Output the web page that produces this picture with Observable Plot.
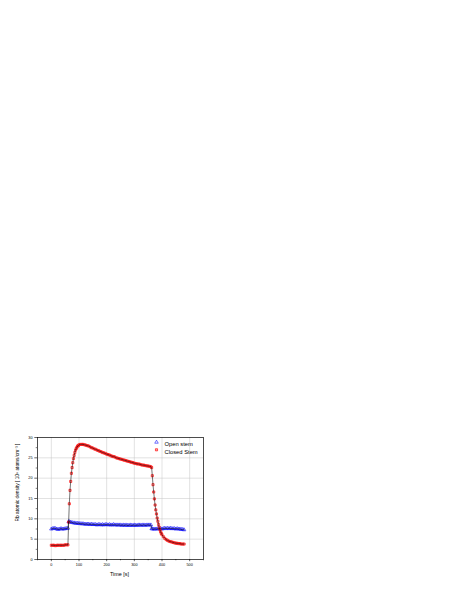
<!DOCTYPE html>
<html>
<head>
<meta charset="utf-8">
<script src="https://cdn.jsdelivr.net/npm/d3@7"></script>
<script src="https://cdn.jsdelivr.net/npm/@observablehq/plot@0.6"></script>
<style>
  html, body { margin: 0; padding: 0; background: #fff; }
  #chart svg { display: block; }
</style>
</head>
<body>
<div id="chart"></div>
<script>
// ---- Data ----
const closedT = [0,5,10,15,20,25,30,35,40,45,50,55,60,
  62.5,65,67.5,70,72.5,75,77.5,80,82.5,85,87.5,90,92.5,95,97.5,100,
  105,110,115,120,125,130,135,140,145,150,155,160,165,170,175,180,185,190,195,200,
  205,210,215,220,225,230,235,240,245,250,255,260,265,270,275,280,285,290,295,300,
  305,310,315,320,325,330,335,340,345,350,355,360,362.5,
  365,367.5,370,372.5,375,377.5,380,382.5,385,387.5,390,392.5,395,397.5,400,
  405,410,415,420,425,430,435,440,445,450,455,460,465,470,475,480];
const closedV = [3.5,3.5,3.5,3.4,3.5,3.5,3.5,3.5,3.5,3.5,3.6,3.6,3.6,
  9.2,13.7,17.0,19.2,21.2,22.6,23.8,24.8,25.6,26.3,26.9,27.3,27.6,27.9,28.0,28.2,
  28.3,28.3,28.3,28.2,28.1,28.0,27.9,27.7,27.5,27.4,27.2,27.1,26.9,26.8,26.6,26.5,26.3,26.2,26.1,25.9,
  25.8,25.7,25.5,25.4,25.3,25.2,25.0,24.9,24.8,24.7,24.6,24.5,24.4,24.3,24.2,24.1,24.0,23.9,23.8,23.7,
  23.6,23.5,23.5,23.4,23.3,23.2,23.2,23.1,23.0,23.0,22.9,22.8,22.6,
  20.6,18.4,16.6,14.9,13.4,12.2,11.2,10.2,9.4,8.6,7.9,7.3,6.8,6.4,6.1,
  5.6,5.2,4.9,4.7,4.5,4.4,4.3,4.2,4.1,4.0,4.0,3.9,3.9,3.8,3.8,3.8];

const openT = [0,5,10,15,20,25,30,35,40,45,50,55,60,
  62.5,65,70,75,80,85,90,95,100,105,110,115,120,125,130,135,140,145,150,155,160,165,170,175,180,185,190,195,200,
  205,210,215,220,225,230,235,240,245,250,255,260,265,270,275,280,285,290,295,300,
  305,310,315,320,325,330,335,340,345,350,355,360,
  362.5,365,370,375,380,385,390,395,400,405,410,415,420,425,430,435,440,445,450,455,460,465,470,475,480];
const openV = [7.5,7.6,7.7,7.6,7.5,7.4,7.5,7.6,7.5,7.5,7.6,7.6,7.7,
  9.3,9.3,9.2,9.1,9.0,9.0,8.9,8.9,8.9,8.8,8.8,8.8,8.7,8.7,8.7,8.7,8.6,8.7,8.6,8.6,8.6,8.5,8.6,8.6,8.5,8.6,8.5,8.6,8.6,
  8.5,8.6,8.5,8.5,8.6,8.5,8.5,8.5,8.5,8.5,8.4,8.5,8.4,8.5,8.4,8.4,8.5,8.4,8.4,8.5,
  8.4,8.4,8.5,8.5,8.4,8.5,8.5,8.4,8.5,8.5,8.5,8.5,
  7.6,7.5,7.5,7.5,7.5,7.6,7.5,7.6,7.5,7.6,7.7,7.6,7.7,7.6,7.7,7.6,7.6,7.6,7.5,7.6,7.5,7.5,7.4,7.4,7.3];

const xTicks = [0, 100, 200, 300, 400, 500];
const xMinor = [-50, 50, 150, 250, 350, 450, 550];
const yTicks = [0, 5, 10, 15, 20, 25, 30];
const yMinor = [2.5, 7.5, 12.5, 17.5, 22.5, 27.5];
const seriesNames = ["Open stem", "Closed Stem"];
const xLabel = "Time [s]";
const yLabel = "Rb atomic density [ 10\u2079 atoms/cm\u207B\u00B3 ]";

const closed = closedT.map((t, i) => ({t, v: closedV[i]}));
const open = openT.map((t, i) => ({t, v: openV[i]}));

const chart = Plot.plot({
  width: 457,
  height: 591,
  marginLeft: 37,
  marginRight: 254,
  marginTop: 437,
  marginBottom: 32,
  style: {fontFamily: "'Liberation Sans', Arial, sans-serif", background: "#fff", color: "#000"},
  x: {domain: [-50, 550]},
  y: {domain: [0, 30]},
  marks: [
    Plot.gridX(xTicks, {stroke: "#c4c4c4", strokeOpacity: 1, strokeWidth: 0.5}),
    Plot.gridY(yTicks.slice(1, -1), {stroke: "#c4c4c4", strokeOpacity: 1, strokeWidth: 0.5}),
    Plot.axisX({ticks: xTicks, tickSize: 2.2, tickPadding: 1.3, fontSize: 3.8, label: null, strokeWidth: 0.6}),
    Plot.axisX({ticks: xMinor, tickSize: 1.3, tickFormat: () => "", label: null, strokeWidth: 0.5}),
    Plot.axisY({ticks: yTicks, tickSize: 2.7, tickPadding: 2.2, fontSize: 3.8, label: null, strokeWidth: 0.6}),
    Plot.axisY({ticks: yMinor, tickSize: 1.3, tickFormat: () => "", label: null, strokeWidth: 0.5}),
    Plot.dot(open, {x: "t", y: "v", symbol: "triangle", r: 1.3, stroke: "#0000ff", strokeWidth: 0.55, fill: "none"}),
    Plot.dot(closed, {x: "t", y: "v", symbol: "square", r: 1.2, stroke: "#ff0000", strokeWidth: 0.65, fill: "#ff6060", fillOpacity: 0.5}),
    Plot.line(open, {x: "t", y: "v", stroke: "#000", strokeWidth: 0.55}),
    Plot.line(closed, {x: "t", y: "v", stroke: "#000", strokeWidth: 0.55}),
    Plot.frame({stroke: "#000", strokeWidth: 0.7}),
    // legend
    Plot.dot([seriesNames[0]], {frameAnchor: "top-right", dx: -47, dy: 4.7, symbol: "triangle", r: 1.3, stroke: "#0000ff", strokeWidth: 0.55, fill: "none"}),
    Plot.dot([seriesNames[1]], {frameAnchor: "top-right", dx: -47, dy: 12.3, symbol: "square", r: 1.2, stroke: "#ff0000", strokeWidth: 0.65, fill: "#ff6060", fillOpacity: 0.5}),
    Plot.text([seriesNames[0]], {frameAnchor: "top-right", dx: -39, dy: 4.7, text: d => d, textAnchor: "start", fontSize: 5.8, fill: "#000"}),
    Plot.text([seriesNames[1]], {frameAnchor: "top-right", dx: -39, dy: 12.3, text: d => d, textAnchor: "start", fontSize: 5.8, fill: "#000"}),
    // axis labels
    Plot.text([xLabel], {frameAnchor: "bottom", dx: -1, dy: 16, text: d => d, textAnchor: "middle", fontSize: 5.4, fill: "#000"}),
    Plot.text([yLabel], {frameAnchor: "left", dx: -20, dy: -16, rotate: -90, text: d => d, textAnchor: "middle", fontSize: 4.8, fill: "#000"})
  ]
});
document.getElementById("chart").appendChild(chart);
</script>
</body>
</html>
